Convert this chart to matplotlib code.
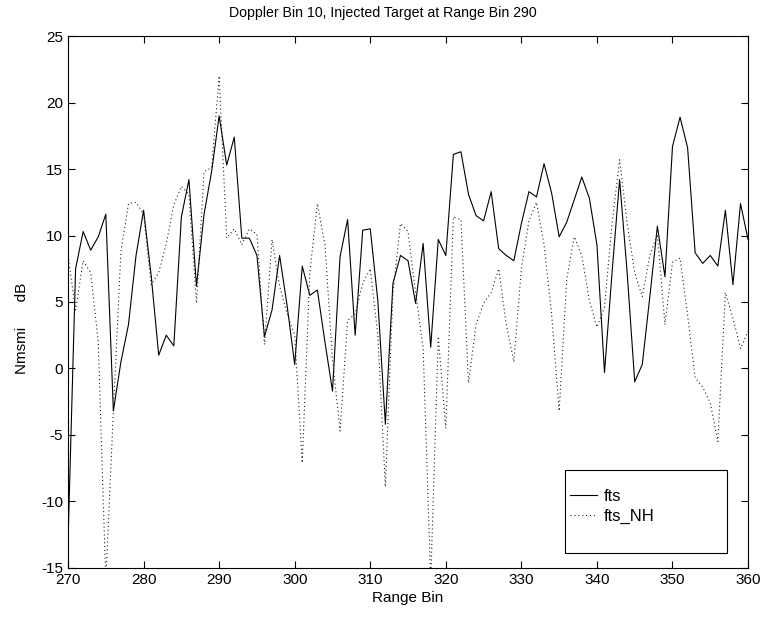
"""Doppler bin 10 range profile, fts vs fts_NH."""

import matplotlib

matplotlib.use("Agg")
import matplotlib.pyplot as plt
from matplotlib.patches import Rectangle
import numpy as np

range_bins = np.arange(270, 361)

fts = [
    -13.0, 7.5, 10.3, 8.9, 9.9, 11.6, -3.2, 0.5, 3.3, 8.5,
    11.9, 7.0, 1.0, 2.5, 1.7, 11.4, 14.2, 6.2, 11.6, 14.8,
    19.0, 15.3, 17.4, 9.8, 9.8, 8.5, 2.4, 4.4, 8.5, 4.7,
    0.3, 7.7, 5.5, 5.9, 2.0, -1.7, 8.4, 11.2, 2.5, 10.4,
    10.5, 5.1, -4.2, 6.4, 8.5, 8.1, 4.9, 9.4, 1.6, 9.7,
    8.5, 16.1, 16.3, 13.1, 11.5, 11.1, 13.3, 9.0, 8.5, 8.1,
    10.9, 13.3, 12.9, 15.4, 13.2, 9.9, 11.0, 12.7, 14.4, 12.8,
    9.3, -0.3, 7.2, 14.2, 7.2, -1.0, 0.3, 5.4, 10.7, 6.9,
    16.7, 18.9, 16.6, 8.7, 7.9, 8.5, 7.7, 11.9, 6.3, 12.4,
    9.7,
]

fts_nh = [
    8.5, 4.4, 8.1, 7.2, 2.0, -16.0, -3.2, 8.8, 12.4, 12.5,
    11.6, 6.3, 7.2, 9.4, 12.3, 13.7, 13.1, 4.9, 14.8, 15.1,
    22.0, 9.8, 10.5, 9.3, 10.5, 10.1, 1.8, 9.7, 6.2, 4.1,
    2.5, -7.1, 7.2, 12.4, 9.3, 0.7, -4.7, 3.6, 4.1, 6.4,
    7.5, 2.5, -8.9, 5.7, 10.9, 10.3, 5.7, 1.5, -16.0, 2.4,
    -4.5, 11.4, 11.2, -1.1, 3.3, 4.9, 5.7, 7.5, 3.3, 0.5,
    7.5, 11.1, 12.5, 9.3, 4.1, -3.2, 6.7, 9.9, 8.5, 5.1,
    3.1, 4.6, 10.9, 15.7, 10.9, 7.2, 5.4, 8.5, 10.1, 3.3,
    8.0, 8.3, 4.0, -0.7, -1.4, -2.6, -5.5, 5.7, 3.8, 1.5,
    2.8,
]

plt.rcParams["font.family"] = ["Liberation Sans", "DejaVu Sans"]
plt.rcParams["axes.unicode_minus"] = False

fig = plt.figure(figsize=(7.67, 6.22), dpi=100)
ax = fig.add_axes([0.0887, 0.087, 0.8866, 0.855])

ax.plot(range_bins, fts, color="black", linewidth=0.8, label="fts")
ax.plot(range_bins, fts_nh, color="#222222", linewidth=0.8,
        linestyle=(0, (1, 2.5)), label="fts_NH")

ax.set_xlim(270, 360)
ax.set_ylim(-15, 25)
ax.set_xticks(np.arange(270, 361, 10))
ax.set_yticks(np.arange(-15, 26, 5))
ax.tick_params(direction="in", top=True, right=True, labelsize=11, length=5, width=0.8)
for spine in ax.spines.values():
    spine.set_linewidth(0.8)

ax.set_title("Doppler Bin 10, Injected Target at Range Bin 290", fontsize=10.2,
             x=0.463, pad=14)
ax.set_xlabel("Range Bin", fontsize=11, labelpad=3)
ax.set_ylabel("Nmsmi      dB", fontsize=11)
ax.yaxis.set_label_coords(-0.058, 0.45)

# legend frame drawn as a fixed box, entries placed inside it
ax.add_patch(Rectangle((0.731, 0.028), 0.238, 0.156, transform=ax.transAxes,
                       facecolor="white", edgecolor="black", linewidth=0.8, zorder=3))
leg = ax.legend(loc="upper left", bbox_to_anchor=(0.725, 0.165), fontsize=12,
                frameon=False, handlelength=1.6, handletextpad=0.4,
                borderpad=0.55, borderaxespad=0.0, labelspacing=0.3)
leg.set_zorder(4)

plt.savefig("out.png", dpi=100)
plt.close()
